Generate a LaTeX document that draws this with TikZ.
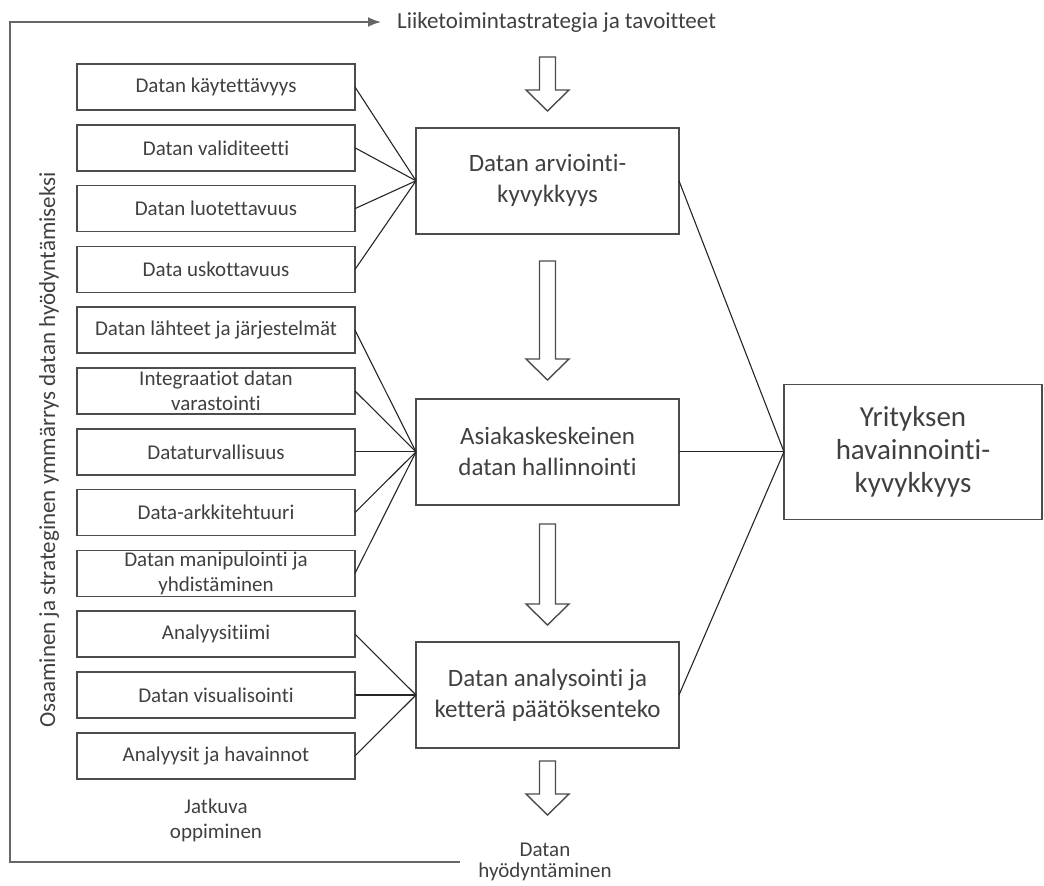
\documentclass[tikz,border=0pt]{standalone}
\usepackage{fontspec}
\setmainfont{Carlito}[Ligatures=NoCommon]
\usetikzlibrary{positioning, arrows.meta}

\definecolor{textgrey}{gray}{0.25}
\definecolor{boxgrey}{gray}{0.3}
\definecolor{loopgrey}{gray}{0.4}

% hollow block arrow pointing down: x, top, tip
\newcommand{\hollowdown}[3]{%
  \draw[hollow] (#1-8,#2) -- (#1+8,#2) -- (#1+8,#3-21) -- (#1+21.5,#3-21)
    -- (#1,#3) -- (#1-21.5,#3-21) -- (#1-8,#3-21) -- cycle;}

\begin{document}
\begin{tikzpicture}[
    x=1pt, y=-1pt,
    item/.style={draw=boxgrey, line width=1.6pt, minimum width=278pt, minimum height=46pt, inner sep=0pt, outer sep=0pt, align=center, text=textgrey, font=\fontsize{21}{25}\selectfont},
    hub/.style={draw=boxgrey, line width=1.6pt, minimum width=263pt, minimum height=106pt, inner sep=0pt, outer sep=0pt, align=center, text=textgrey, font=\fontsize{25}{31}\selectfont},
    goal/.style={draw=boxgrey, line width=1.6pt, minimum width=258pt, minimum height=135pt, inner sep=0pt, outer sep=0pt, align=center, text=textgrey, font=\fontsize{29}{33}\selectfont},
    lab/.style={text=textgrey, inner sep=0pt, align=center},
    fan/.style={line width=1.1pt, black!85},
    hollow/.style={draw=boxgrey, line width=1.4pt, fill=white, line join=miter},
    loopline/.style={draw=loopgrey, line width=1.8pt}
]
\useasboundingbox (0,0) rectangle (1044,886);

% --- left column of competences ---
\node[item] (k1) at (216,87) {Datan käytettävyys};
\node[item, below=14.8pt of k1] (k2) {Datan validiteetti};
\node[item, below=14.8pt of k2] (k3) {Datan luotettavuus};
\node[item, below=14.8pt of k3] (k4) {Data uskottavuus};
\node[item, below=14.8pt of k4] (k5) {Datan lähteet  ja järjestelmät};
\node[item, below=14.8pt of k5] (k6) {Integraatiot datan\\varastointi};
\node[item, below=14.8pt of k6] (k7) {Dataturvallisuus};
\node[item, below=14.8pt of k7] (k8) {Data-arkkitehtuuri};
\node[item, below=14.8pt of k8] (k9) {Datan manipulointi ja\\yhdistäminen};
\node[item, below=14.8pt of k9] (k10) {Analyysitiimi};
\node[item, below=14.8pt of k10] (k11) {Datan visualisointi};
\node[item, below=14.8pt of k11] (k12) {Analyysit ja havainnot};

% --- middle column ---
\node[hub, right=61pt of k7] (hallinta) {Asiakaskeskeinen\\datan hallinnointi};
\node[hub, above=165pt of hallinta] (arvio) {Datan arviointi-\\kyvykkyys};
\node[hub, right=61pt of k11] (analyysi) {Datan analysointi ja\\ketterä  päätöksenteko};

% result
\node[goal, right=105pt of hallinta] (yritys) {Yrityksen\\havainnointi-\\kyvykkyys};

% --- free texts ---
\node[lab, anchor=west, font=\fontsize{23}{27}\selectfont] (strategia) at (397,22) {Liiketoimintastrategia ja tavoitteet};
\node[lab, rotate=90, font=\fontsize{23}{27}\selectfont] (osaaminen) at (49,450) {Osaaminen ja strateginen ymmärrys datan hyödyntämiseksi};
\node[lab, below=20pt of k12, font=\fontsize{21}{25}\selectfont] (jatkuva) {Jatkuva\\oppiminen};
\node[lab, font=\fontsize{21}{21}\selectfont] (hyodyntaminen) at (545,862) {Datan\\hyödyntäminen};

% --- learning loop ---
\coordinate (looptail) at (460,862);
\coordinate (loopbottom) at (10,862);
\coordinate (looptop) at (10,22);
\draw[loopline, -{Latex[length=13pt, width=10pt]}, shorten >=16pt] (looptail) -- (loopbottom) -- (looptop) -- (strategia.west);

% --- fan lines ---
\foreach \k in {1,...,4} \draw[fan] (k\k.east) -- (arvio.west);
\foreach \k in {5,...,9} \draw[fan] (k\k.east) -- (hallinta.west);
\foreach \k in {10,11,12} \draw[fan] (k\k.east) -- (analyysi.west);
\foreach \h in {arvio,hallinta,analyysi} \draw[fan] (\h.east) -- (yritys.west);

% --- hollow arrows down the middle ---
\hollowdown{547.5}{57}{111}
\hollowdown{547.5}{261}{380}
\hollowdown{547.5}{524}{625}
\hollowdown{547.5}{761}{815}

\end{tikzpicture}
\end{document}
